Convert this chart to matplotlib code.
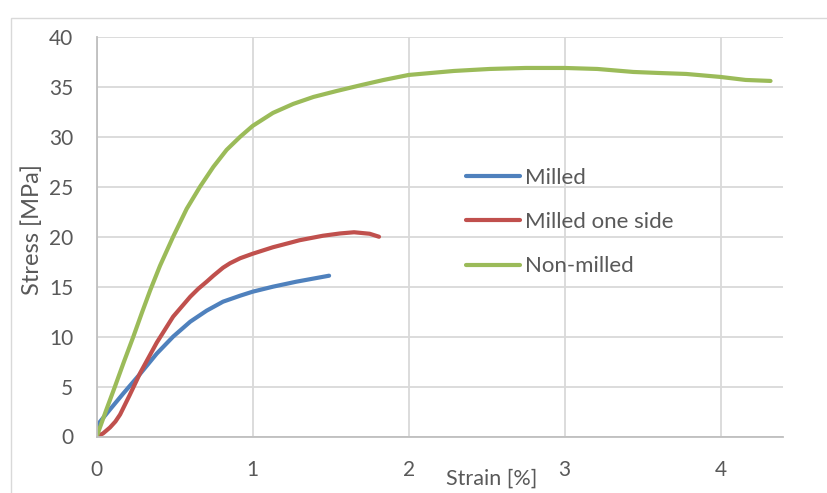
import matplotlib
matplotlib.use('Agg')
import matplotlib.pyplot as plt
from matplotlib.patches import Rectangle

# Data
milled_x = [0, 0.085, 0.17, 0.28, 0.385, 0.49, 0.6, 0.705, 0.81, 0.92, 1.0, 1.13, 1.28, 1.35, 1.49]
milled_y = [1.07, 2.7, 4.3, 6.3, 8.3, 10.0, 11.5, 12.6, 13.5, 14.1, 14.5, 15.0, 15.5, 15.7, 16.1]

one_side_x = [0, 0.04, 0.085, 0.12, 0.15, 0.21, 0.28, 0.385, 0.49, 0.6, 0.652, 0.705, 0.748,
              0.81, 0.855, 0.92, 1.0, 1.13, 1.24, 1.30, 1.45, 1.56, 1.65, 1.75, 1.81]
one_side_y = [0, 0.3, 0.9, 1.5, 2.2, 4.1, 6.4, 9.4, 12.0, 14.0, 14.8, 15.5, 16.1,
              16.9, 17.35, 17.85, 18.3, 18.95, 19.4, 19.65, 20.1, 20.33, 20.45, 20.3, 20.0]

non_milled_x = [0, 0.06, 0.117, 0.175, 0.235, 0.29, 0.342, 0.406, 0.49, 0.577, 0.662, 0.748,
                0.833, 0.919, 1.0, 1.13, 1.26, 1.39, 1.54, 1.7, 1.84, 2.0, 2.29, 2.52, 2.75,
                3.0, 3.21, 3.44, 3.6, 3.78, 4.0, 4.16, 4.32]
non_milled_y = [0, 2.6, 5, 7.5, 10, 12.4, 14.6, 17.1, 20, 22.8, 25, 27, 28.7, 30.0, 31.1,
                32.4, 33.3, 34.0, 34.6, 35.2, 35.7, 36.2, 36.6, 36.8, 36.9, 36.9, 36.8,
                36.5, 36.4, 36.3, 36.0, 35.7, 35.6]

labels = ['Milled', 'Milled one side', 'Non-milled']
colors = ['#4F81BD', '#C0504D', '#9BBB59']
x_ticks = [0, 1, 2, 3, 4]
y_ticks = [0, 5, 10, 15, 20, 25, 30, 35, 40]

W, H = 828, 493
plt.rcParams['font.family'] = ['Lato', 'DejaVu Sans']
text_color = '#595959'
grid_color = '#D9D9D9'

fig = plt.figure(figsize=(W / 100, H / 100), dpi=100)
# outer chart border (runs off the right and bottom edges)
fig.add_artist(Rectangle((11 / W, -0.1), 1.2, (H - 18.5) / H + 0.1,
                         transform=fig.transFigure, fill=False,
                         edgecolor=grid_color, linewidth=1.0))

ax = fig.add_axes([96.7 / W, (H - 436.5) / H, (783 - 96.7) / W, (436.5 - 37) / H])

series = [(milled_x, milled_y), (one_side_x, one_side_y), (non_milled_x, non_milled_y)]
for (xs, ys), lab, col in zip(series, labels, colors):
    ax.plot(xs, ys, color=col, linewidth=3.0, label=lab,
            solid_capstyle='round', solid_joinstyle='round')

ax.set_xlim(0, 4.4)
ax.set_ylim(0, 40)
ax.set_xticks(x_ticks)
ax.set_yticks(y_ticks)
ax.grid(True, color=grid_color, linewidth=1.3)
ax.set_axisbelow(True)
for side in ['top', 'right']:
    ax.spines[side].set_visible(False)
for side in ['left', 'bottom']:
    ax.spines[side].set_color('#BFBFBF')
    ax.spines[side].set_linewidth(1.3)
ax.tick_params(axis='both', length=0, labelsize=15, colors=text_color)
ax.tick_params(axis='y', pad=17)
ax.tick_params(axis='x', pad=17)

fig.text(32 / W, 1 - 230 / H, 'Stress [MPa]', rotation=90, ha='center', va='center',
         fontsize=17, color=text_color)
fig.text(492 / W, 1 - 479 / H, 'Strain [%]', ha='center', va='center',
         fontsize=15.5, color=text_color)

ax.legend(loc='center left', bbox_to_anchor=(466 / W, 1 - 222 / H),
          bbox_transform=fig.transFigure, frameon=False, fontsize=16,
          handlelength=2.43, handletextpad=0.22, labelspacing=1.1,
          borderpad=0, borderaxespad=0, labelcolor=text_color)

fig.savefig('out.png', dpi=100)
